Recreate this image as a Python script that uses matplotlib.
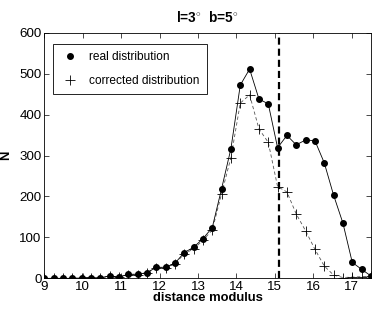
import matplotlib
matplotlib.use("Agg")
import matplotlib.pyplot as plt
from matplotlib.lines import Line2D

plt.rcParams['font.family'] = ['Liberation Sans', 'DejaVu Sans']
plt.rcParams['mathtext.fontset'] = 'custom'
plt.rcParams['mathtext.rm'] = 'Liberation Sans'

# distance modulus bins
dist_mod = [9.000, 9.243, 9.486, 9.729, 9.971, 10.214, 10.457, 10.700, 10.943,
            11.186, 11.429, 11.671, 11.914, 12.157, 12.400, 12.643, 12.886,
            13.129, 13.371, 13.614, 13.857, 14.100, 14.343, 14.586, 14.829,
            15.071, 15.314, 15.557, 15.800, 16.043, 16.286, 16.529, 16.771,
            17.014, 17.257, 17.500]
real_N = [0, 0, 0, 0, 1, 2, 1, 6, 3, 10, 10, 14, 27, 27, 37, 63, 76, 97, 124,
          219, 317, 472, 511, 438, 426, 319, 349, 326, 338, 336, 282, 203, 135,
          39, 22, 6]
corrected_N = [0, 0, 0, 0, 1, 2, 1, 5, 3, 9, 9, 13, 26, 26, 35, 60, 72, 93,
               118, 207, 295, 428, 448, 365, 332, 224, 211, 157, 116, 71, 30, 8,
               2, 3, 4, 5]
cut_mod = 15.1
xticks = [9, 10, 11, 12, 13, 14, 15, 16, 17]
yticks = [0, 100, 200, 300, 400, 500, 600]
title = r"l=3$^{\circ}$  b=5$^{\circ}$"

fig = plt.figure(figsize=(3.82, 3.11), dpi=100)
ax = fig.add_axes([0.116, 0.105, 0.855, 0.79])

ax.plot(dist_mod, real_N, '-', color='black', lw=0.6, zorder=3)
ax.plot(dist_mod, real_N, 'o', color='black', ms=4, zorder=4)
ax.plot(dist_mod, corrected_N, '--', color='#555555', lw=0.6, dashes=(4, 3), zorder=2)
ax.plot(dist_mod, corrected_N, '+', color='black', ms=7, mew=0.6, zorder=5)
ax.axvline(cut_mod, color='black', lw=1.6, ls=(0, (3.2, 1.8)), zorder=6)

ax.set_xlim(9, 17.5)
ax.set_ylim(0, 600)
ax.set_xticks(xticks)
ax.set_yticks(yticks)
ax.tick_params(direction='in', top=True, right=True, length=3.5, width=0.5,
               labelsize=9.6)
ax.tick_params(axis='x', pad=2)
ax.tick_params(axis='y', pad=2)
for s in ax.spines.values():
    s.set_linewidth(0.6)

ax.set_xlabel('distance modulus', fontsize=9.4, fontweight='bold', labelpad=-0.5)
ax.set_ylabel('N', fontsize=9.4, fontweight='bold', labelpad=5)
ax.set_title(title, fontsize=9.8, fontweight='bold', pad=8)

handles = [Line2D([], [], ls='none', marker='o', color='black', ms=4),
           Line2D([], [], ls='none', marker='+', color='black', ms=7, mew=0.6)]
leg = ax.legend(handles, ['real distribution', 'corrected distribution'],
                loc='upper left', bbox_to_anchor=(0.027, 0.954), borderaxespad=0,
                fancybox=False, framealpha=1, edgecolor='black', fontsize=8.6,
                handlelength=1.6, handletextpad=0.8, borderpad=0.6,
                labelspacing=1.0)
leg.get_frame().set_linewidth(0.6)

fig.savefig('out.png', dpi=100)
